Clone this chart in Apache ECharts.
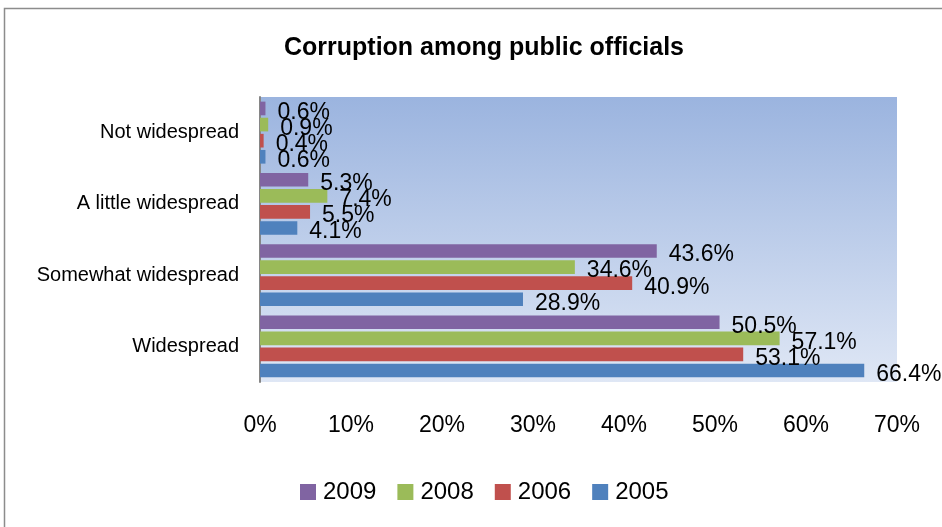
<!DOCTYPE html>
<html>
<head>
<meta charset="utf-8">
<script src="https://cdn.jsdelivr.net/npm/echarts@6/dist/echarts.min.js"></script>
<style>
  html, body { margin: 0; padding: 0; background: #ffffff; }
  #chart { width: 942px; height: 527px; }
</style>
</head>
<body>
<div id="chart"></div>
<script>
// Survey answers, bottom to top on the category axis
const categories = ['Widespread', 'Somewhat widespread', 'A little widespread', 'Not widespread'];

// Share of respondents (%) per year, same order as categories
const values2005 = [66.4, 28.9, 4.1, 0.6];
const values2006 = [53.1, 40.9, 5.5, 0.4];
const values2008 = [57.1, 34.6, 7.4, 0.9];
const values2009 = [50.5, 43.6, 5.3, 0.6];

const xTicks = [0, 10, 20, 30, 40, 50, 60, 70];
const legendOrder = ['2009', '2008', '2006', '2005'];

const FONT = 'Liberation Sans';

function barSeries(name, data, color) {
  return {
    name: name,
    type: 'bar',
    data: data,
    barGap: '18%',
    barCategoryGap: '13%',
    itemStyle: { color: color },
    label: {
      show: true,
      position: 'right',
      distance: 12,
      offset: [0, 4],
      color: '#000',
      fontFamily: FONT,
      fontSize: 23,
      formatter: p => p.value.toFixed(1) + '%'
    }
  };
}

const chart = echarts.init(document.getElementById('chart'), null, { renderer: 'canvas' });

chart.setOption({
  animation: false,
  backgroundColor: '#ffffff',
  title: {
    text: 'Corruption among public officials',
    left: 479,
    top: 31,
    textAlign: 'center',
    textStyle: { fontFamily: FONT, fontWeight: 'bold', fontSize: 25, color: '#000' }
  },
  graphic: [{
    type: 'rect',
    shape: { x: 4.5, y: 8.5, width: 1000, height: 600 },
    style: { fill: 'none', stroke: '#8c8c8c', lineWidth: 1.5 },
    silent: true,
    z: -10
  }],
  legend: {
    data: legendOrder,
    bottom: 18,
    left: 295,
    itemWidth: 16,
    itemHeight: 16,
    itemGap: 21,
    icon: 'rect',
    textStyle: { fontFamily: FONT, fontSize: 24, color: '#000', padding: [0, 0, 0, 2] }
  },
  grid: {
    left: 260,
    right: 45,
    top: 97,
    bottom: 145,
    show: true,
    borderWidth: 0,
    backgroundColor: new echarts.graphic.LinearGradient(0, 0, 0, 1, [
      { offset: 0, color: '#9bb4df' },
      { offset: 1, color: '#dfe7f5' }
    ])
  },
  xAxis: {
    type: 'value',
    min: xTicks[0],
    max: xTicks[xTicks.length - 1],
    interval: 10,
    axisLine: { show: false },
    axisTick: { show: false },
    splitLine: { show: false },
    axisLabel: {
      margin: 32,
      color: '#000',
      fontFamily: FONT,
      fontSize: 23,
      formatter: v => v + '%'
    }
  },
  yAxis: {
    type: 'category',
    data: categories,
    axisLine: { show: true, lineStyle: { color: '#868686', width: 2 } },
    axisTick: { show: false },
    axisLabel: {
      margin: 21,
      color: '#000',
      fontFamily: FONT,
      fontSize: 20
    }
  },
  // listed top-to-bottom within each category group
  series: [
    barSeries('2009', values2009, '#8064a2'),
    barSeries('2008', values2008, '#9bbb59'),
    barSeries('2006', values2006, '#c0504d'),
    barSeries('2005', values2005, '#4f81bd')
  ]
});
</script>
</body>
</html>
